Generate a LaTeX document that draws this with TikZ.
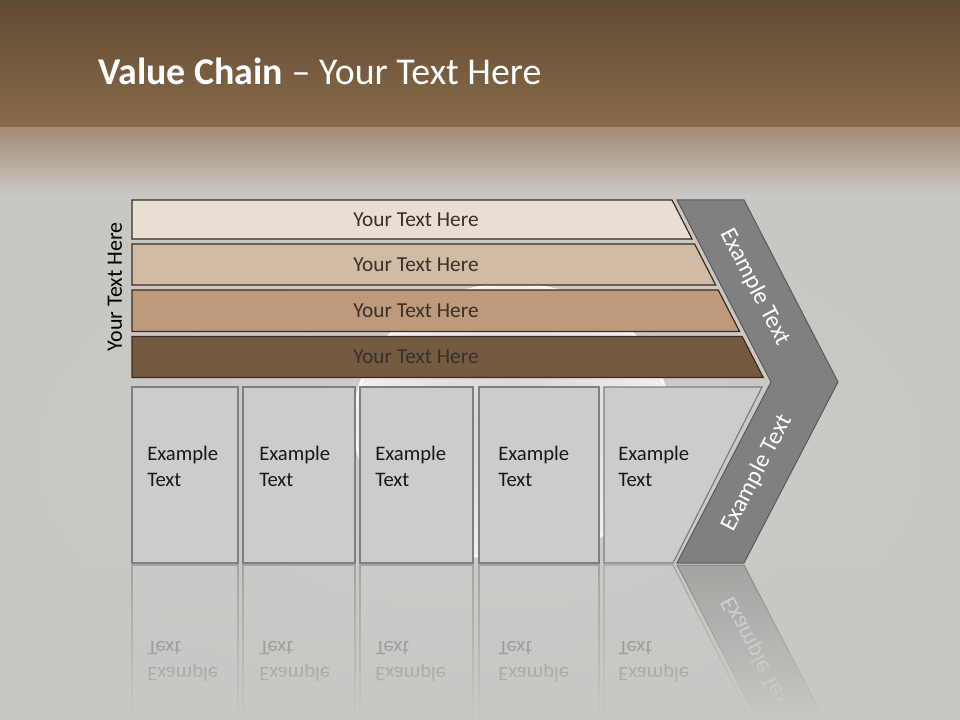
\documentclass[tikz,border=0pt]{standalone}
\usepackage{fontspec}
\setmainfont{Carlito}
\usetikzlibrary{positioning, calc, fadings}

\definecolor{hdrtop}{HTML}{5F4A33}
\definecolor{hdrbot}{HTML}{8A6B4A}
\definecolor{hdrfade}{HTML}{A58C73}
\definecolor{bgmain}{HTML}{C9C7C4}
\definecolor{bglight}{HTML}{CFCDCA}
\definecolor{diskin}{HTML}{D3D1CE}
\definecolor{diskout}{HTML}{F1F0EF}
\definecolor{barA}{HTML}{E8DED4}
\definecolor{barB}{HTML}{D2BBA5}
\definecolor{barC}{HTML}{BC9A7B}
\definecolor{barD}{HTML}{745A3F}
\definecolor{barline}{HTML}{3A2C20}
\definecolor{bartxt}{HTML}{3B3027}
\definecolor{cellfill}{HTML}{CCCCCC}
\definecolor{cellline}{HTML}{7F7F7F}
\definecolor{chevfill}{HTML}{808080}
\definecolor{chevline}{HTML}{5A5A5A}

\tikzfading[name=reflcover, top color=transparent!100, bottom color=transparent!0]

% cells and chevron, drawn once and once more as the reflection
\newcommand\drawbase{%
  \foreach \i/\xa/\xb/\tx in {1/132/238/147, 2/243/355/259, 3/360/473/375, 4/479/599/498} {
    \path[cell] (\xa,387) rectangle (\xb,563);
    \node[celltext] (cell\i) at (\tx,466) {Example\\Text};
  }
  \path[cell] (604,387) -- (762,387) -- (673,563) -- (604,563) -- cycle;
  \node[celltext] (cell5) at (618,466) {Example\\Text};
  % chevron
  \path[chev] (677,200) -- (744,200) -- (838,382) -- (744,563) -- (677,563) -- (771,382) -- cycle;
  \node[chevtext, rotate=62.7] (chevdown) at (757,473) {Example Text};
}

\begin{document}
\begin{tikzpicture}[
  x=0.75pt, y=-0.75pt,
  bar/.style = {draw=barline, line width=0.9pt},
  cell/.style = {draw=cellline, fill=cellfill, line width=0.9pt},
  chev/.style = {draw=chevline, fill=chevfill, line width=0.75pt},
  bartext/.style = {text=bartxt, font=\fontsize{16}{19}\selectfont},
  celltext/.style = {align=left, anchor=west, inner sep=0pt, text=black!90, font=\fontsize{15.5}{19.5}\selectfont},
  chevtext/.style = {text=white, font=\fontsize{18}{21}\selectfont}
]

  \clip (0,0) rectangle (960,720);

  % background
  \fill[bgmain] (0,0) rectangle (960,720);
  \shade[inner color=bglight, outer color=bgmain] (0,190) rectangle (960,720);
  \shade[top color=hdrtop, bottom color=hdrbot] (0,0) rectangle (960,128);
  \shade[top color=hdrfade, bottom color=bgmain] (0,128) rectangle (960,195);
  \shade[inner color=diskin, outer color=diskout] (512,422) ellipse [x radius=158, y radius=138];
  \draw[white, line width=1.5pt, opacity=0.8] (512,422) ellipse [x radius=158, y radius=138];

  % title
  \node[anchor=base west, inner sep=0pt, text=white, font=\fontsize{28.4}{34}\selectfont] (title) at (98,85)
    {\textbf{Value Chain} -- Your Text Here};

  % side label
  \node[rotate=90, font=\fontsize{16.5}{19}\selectfont] (side) at (115,287) {Your Text Here};

  % bars
  \foreach \i/\ya/\yb/\col in {1/200/239/barA, 2/244/285/barB, 3/290/331.5/barC, 4/336.5/377.5/barD} {
    \pgfmathsetmacro\xa{672+0.514*(\ya-200)}
    \pgfmathsetmacro\xb{672+0.514*(\yb-200)}
    \path[bar, fill=\col] (132,\ya) -- (\xa,\ya) -- (\xb,\yb) -- (132,\yb) -- cycle;
    \node[bartext] (bar\i) at (416,{(\ya+\yb)/2}) {Your Text Here};
  }

  \drawbase
  \node[chevtext, rotate=-62.7] (chevup) at (755,287) {Example Text};

  % reflection
  \begin{scope}[shift={(0,1128)}, yscale=-1, transform shape, opacity=0.5, name prefix=mirror-]
    \drawbase
  \end{scope}
  \fill[bgmain, path fading=reflcover] (0,565) rectangle (960,720);

\end{tikzpicture}
\end{document}
